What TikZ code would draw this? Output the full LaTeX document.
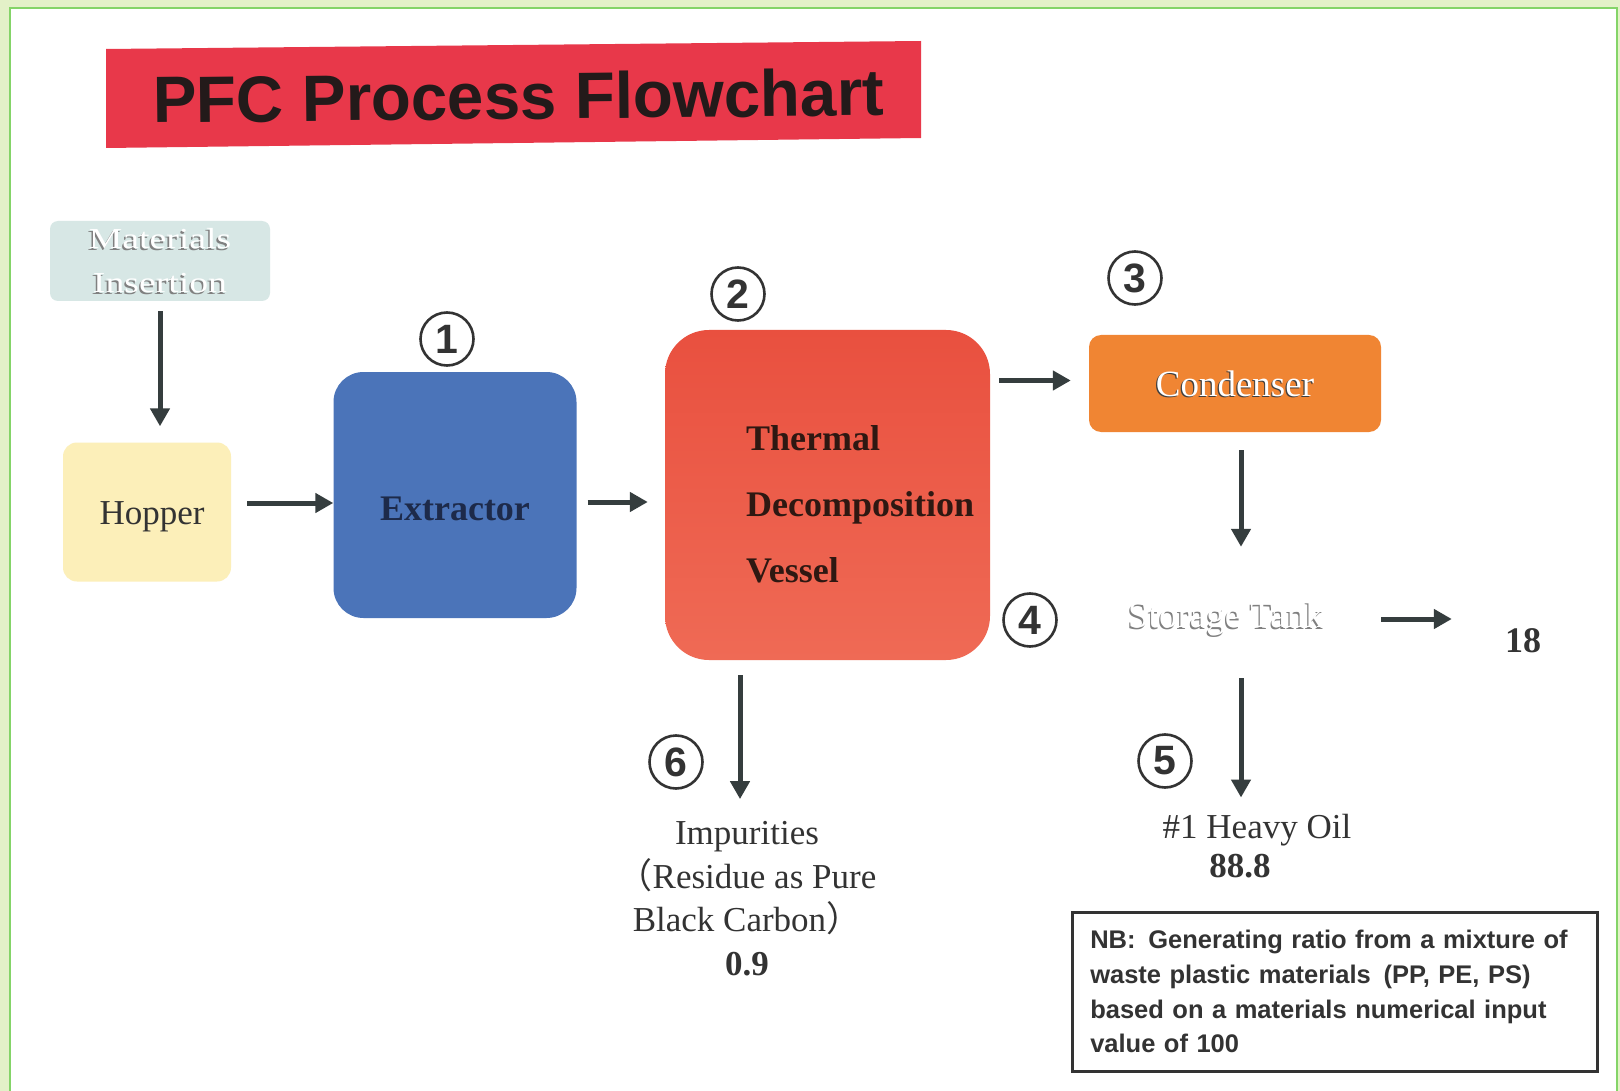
\documentclass[tikz,border=0pt]{standalone}
\usepackage{fontspec}
\usepackage{graphicx}
\setmainfont{Liberation Serif}
\newfontfamily\sansf{Liberation Sans}
\newfontfamily\cjkf{Noto Sans CJK SC}
\usetikzlibrary{arrows.meta,calc}
\definecolor{bgout}{HTML}{E3F1C8}
\definecolor{frameg}{HTML}{84D468}
\definecolor{barred}{HTML}{E8384A}
\definecolor{arrowc}{HTML}{353D3E}
\definecolor{matc}{HTML}{D7E7E5}
\definecolor{hopc}{HTML}{FCEFB9}
\definecolor{extc}{HTML}{4B74B9}
\definecolor{vesctop}{HTML}{E9503F}
\definecolor{vescbot}{HTML}{EF6A55}
\definecolor{conc}{HTML}{F08533}
\definecolor{txtd}{HTML}{333333}
\definecolor{navyd}{HTML}{1D2A4A}
\definecolor{brownd}{HTML}{2E1812}
\definecolor{titlec}{HTML}{231A1A}
\newcommand\fs[2]{\fontsize{#1}{#2}\selectfont}
\newcommand\embo[2]{\makebox[0pt][l]{\hspace*{-1.2pt}\raisebox{-1.5pt}[0pt][0pt]{\textcolor{#1}{#2}}}\textcolor{white}{#2}}
\tikzset{
  boxn/.style={rectangle, inner sep=0pt},
  flow/.style={draw=arrowc, line width=5pt, -{Triangle[length=18pt,width=19pt]}},
  cnum/.style={circle, draw=txtd, line width=2.6pt, minimum size=53pt, inner sep=0pt, text=txtd, font=\sansf\bfseries\fs{41}{41}},
  lbl/.style={inner sep=0pt, text=txtd, font=\fs{35}{40}}
}
\begin{document}
\begin{tikzpicture}[x=1pt,y=-1pt]
\useasboundingbox (0,0) rectangle (1620,1091);
\fill[bgout] (0,0) rectangle (1620,1091);
\draw[frameg, line width=2.5pt, fill=white] (10,8) rectangle (1617,1110);

% title
\fill[barred] (106,49) -- (921,41) -- (921,138) -- (106,148) -- cycle;
\node[anchor=base west, inner sep=0pt, rotate=0.6, text=titlec, font=\sansf\bfseries\fs{65.5}{66}] (title) at (153,123) {PFC Process Flowchart};

% boxes
\node[boxn, fill=matc, rounded corners=8pt, minimum width=220pt, minimum height=80pt, align=center, font=\fs{29}{44}] (mat) at (160,261)
  {\scalebox{1.3}[1]{\embo{gray}{Materials}}\\\scalebox{1.3}[1]{\embo{gray}{Insertion}}};
\node[boxn, fill=hopc, rounded corners=14pt, minimum width=168pt, minimum height=139pt, font=\fs{35}{40}, text=txtd, text height=24pt, text depth=0pt] (hopper) at (147,512) {\hspace*{10pt}Hopper};
\node[boxn, fill=extc, rounded corners=30pt, minimum width=243pt, minimum height=246pt, font=\bfseries\fs{36}{40}, text=navyd, text height=50pt, text depth=0pt] (extr) at (455,495) {Extractor};
\node[boxn, rounded corners=44pt, minimum width=325pt, minimum height=330pt, top color=vesctop, bottom color=vescbot, draw=none] (vessel) at (827.5,495) {};
\node[anchor=base west, inner sep=0pt, align=left, font=\bfseries\fs{36}{66}, text=brownd] (vtxt) at (746,582) {Thermal\\Decomposition\\Vessel};
\node[boxn, fill=conc, rounded corners=12pt, minimum width=292pt, minimum height=97pt, font=\fs{37}{40}] (cond) at (1235,383.5) {\embo{black!75}{Condenser}};
\node[boxn, minimum width=210pt, minimum height=80pt, font=\fs{37}{40}] (stor) at (1226,619) {\embo{gray}{Storage Tank}};
\node[lbl, anchor=base, font=\bfseries\fs{36}{40}] (eighteen) at (1523,652) {18};

% outputs
\node[lbl, anchor=base, align=center, font=\fs{35}{43.5}] (imp) at (747,975) {Impurities\\{\cjkf （}Residue as Pure\\Black Carbon{\cjkf ）}\\\textbf{0.9}};
\node[lbl, anchor=base, align=center, font=\fs{35}{39}] (heavy) at (1257,877) {\#1 Heavy Oil\\\textbf{88.8}\hspace*{34pt}};

% circled numbers
\node[cnum] (n1) at (447,339) {1};
\node[cnum] (n2) at (738,294) {2};
\node[cnum] (n3) at (1135,278) {3};
\node[cnum] (n4) at (1030,620) {4};
\node[cnum] (n5) at (1165,761) {5};
\node[cnum] (n6) at (676,762) {6};

% note
\node[draw=txtd, line width=2.5pt, anchor=north west, inner xsep=17pt, inner ysep=0pt, minimum width=525pt, minimum height=159pt, text width=489pt, align=left, text=txtd, font=\sansf\bfseries\fs{25.5}{34.7}] (note) at (1071,911)
  {NB:\hspace{0.5em}Generating ratio from a mixture of\\waste plastic materials\hspace{0.5em}(PP, PE, PS)\\based on a materials numerical input\\value of 100};

% arrows
\draw[flow] ($(mat.south)+(0,10)$) -- ($(mat.south |- hopper.north)+(0,-16)$);
\draw[flow] ($(hopper.east)+(16,-9)$) -- ($(hopper.east -| extr.west)+(0,-9)$);
\draw[flow] ($(extr.east)+(11,7)$) -- ($(extr.east -| vessel.west)+(-17,7)$);
\draw[flow] ($(vessel.east |- cond.west)+(9,-3)$) -- ($(cond.west)+(-18,-3)$);
\draw[flow] ($(cond.south)+(6,18)$) -- ($(cond.south |- stor.north)+(6,-32)$);
\draw[flow] ($(stor.east)+(50,0)$) -- ($(stor.east -| eighteen.west)+(-53,0)$);
\draw[flow] ($(stor.south)+(15,19)$) -- ($(stor.south |- heavy.north)+(15,-16)$);
\draw[flow] ($(imp.north |- vessel.south)+(-7,15)$) -- ($(imp.north)+(-7,-22)$);
\end{tikzpicture}
\end{document}
